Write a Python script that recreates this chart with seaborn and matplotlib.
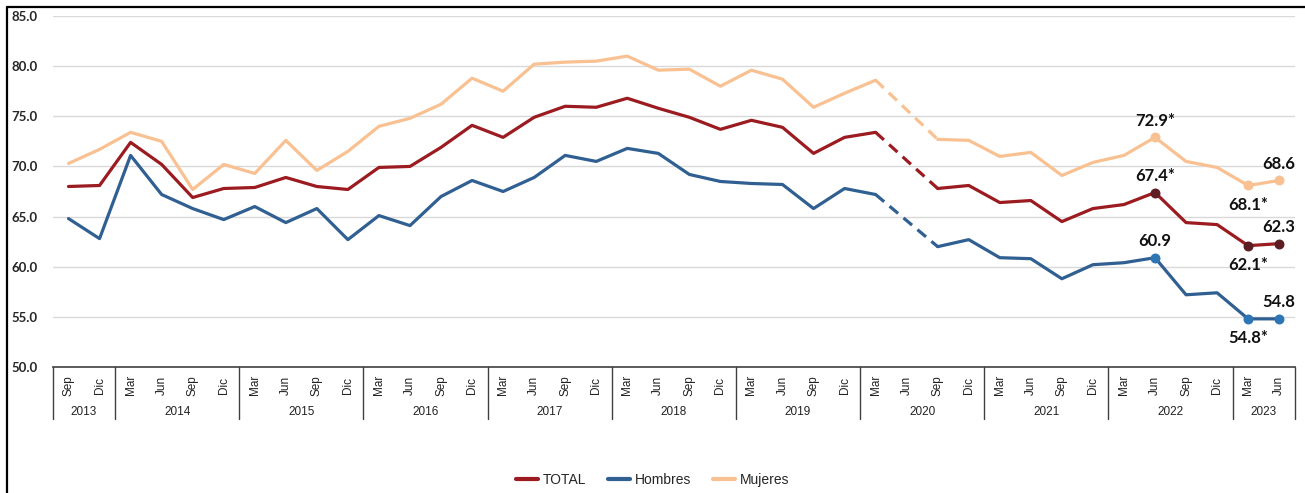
import numpy as np
import pandas as pd
import seaborn as sns
import matplotlib.pyplot as plt
from matplotlib.lines import Line2D
from matplotlib.transforms import blended_transform_factory

# quarters shown on the axis
months = ['Sep', 'Dic'] + ['Mar', 'Jun', 'Sep', 'Dic'] * 9 + ['Mar', 'Jun']
years = ['2013'] * 2 + [str(y) for y in range(2014, 2023) for _ in range(4)] + ['2023'] * 2

total = [68.0, 68.1,
         72.4, 70.2, 66.9, 67.8,
         67.9, 68.9, 68.0, 67.7,
         69.9, 70.0, 71.9, 74.1,
         72.9, 74.9, 76.0, 75.9,
         76.8, 75.8, 74.9, 73.7,
         74.6, 73.9, 71.3, 72.9,
         73.4, None, 67.8, 68.1,
         66.4, 66.6, 64.5, 65.8,
         66.2, 67.4, 64.4, 64.2,
         62.1, 62.3]
hombres = [64.8, 62.8,
           71.1, 67.2, 65.8, 64.7,
           66.0, 64.4, 65.8, 62.7,
           65.1, 64.1, 67.0, 68.6,
           67.5, 68.9, 71.1, 70.5,
           71.8, 71.3, 69.2, 68.5,
           68.3, 68.2, 65.8, 67.8,
           67.2, None, 62.0, 62.7,
           60.9, 60.8, 58.8, 60.2,
           60.4, 60.9, 57.2, 57.4,
           54.8, 54.8]
mujeres = [70.3, 71.7,
           73.4, 72.5, 67.7, 70.2,
           69.3, 72.6, 69.6, 71.5,
           74.0, 74.8, 76.2, 78.8,
           77.5, 80.2, 80.4, 80.5,
           81.0, 79.6, 79.7, 78.0,
           79.6, 78.7, 75.9, 77.3,
           78.6, None, 72.7, 72.6,
           71.0, 71.4, 69.1, 70.4,
           71.1, 72.9, 70.5, 69.9,
           68.1, 68.6]

# labelled points: (index, text, above?)
labels_total = [(35, '67.4*', True), (38, '62.1*', False), (39, '62.3', True)]
labels_hombres = [(35, '60.9', True), (38, '54.8*', False), (39, '54.8', True)]
labels_mujeres = [(35, '72.9*', True), (38, '68.1*', False), (39, '68.6', True)]

df = pd.DataFrame({'pos': np.arange(len(months)), 'mes': months, 'anio': years,
                   'TOTAL': total, 'Hombres': hombres, 'Mujeres': mujeres})

sns.set_style('white')
plt.rcParams['font.family'] = ['Liberation Sans', 'DejaVu Sans']

colors = {'TOTAL': '#9B1B20', 'Hombres': '#305F92', 'Mujeres': '#F9C191'}
mark_colors = {'TOTAL': '#5C1E22', 'Hombres': '#2E75B6', 'Mujeres': '#F9C191'}
annots = {'TOTAL': labels_total, 'Hombres': labels_hombres, 'Mujeres': labels_mujeres}

fig = plt.figure(figsize=(13.05, 4.93), dpi=100)
ax = fig.add_axes([0.0406, 0.2556, 0.9515, 0.7119])

gap = df.index[df['TOTAL'].isna()][0]
for name in ['Mujeres', 'TOTAL', 'Hombres']:
    before = df.iloc[:gap]
    after = df.iloc[gap + 1:]
    bridge = df.iloc[[gap - 1, gap + 1]]
    sns.lineplot(data=before, x='pos', y=name, color=colors[name], lw=2.3, ax=ax)
    sns.lineplot(data=after, x='pos', y=name, color=colors[name], lw=2.3, ax=ax)
    sns.lineplot(data=bridge, x='pos', y=name, color=colors[name], lw=2.3,
                 ax=ax, dashes=False).lines[-1].set_linestyle((0, (3.5, 2.2)))
    idx = [a[0] for a in annots[name]]
    ax.scatter(df['pos'].iloc[idx], df[name].iloc[idx], s=38,
               color=mark_colors[name], zorder=5)
    for i, txt, above in annots[name]:
        ax.annotate(txt, (df['pos'].iloc[i], df[name].iloc[i]),
                    xytext=(0, 12 if above else -14), textcoords='offset points',
                    ha='center', va='center', fontsize=12, fontweight='bold',
                    family=['Lato', 'DejaVu Sans'], color='#111111')

ax.set_xlim(-0.5, len(months) - 0.5)
ax.set_ylim(50, 85)
ax.set_yticks(np.arange(50, 86, 5))
ax.set_yticklabels([f'{v:.1f}' for v in np.arange(50, 86, 5)],
                   fontsize=9.5, fontweight='bold', family=['Lato', 'DejaVu Sans'])
ax.tick_params(axis='y', length=0, pad=11)
ax.set_xticks([])
ax.set_xlabel('')
ax.set_ylabel('')
ax.grid(axis='y', color='#D9D9D9', lw=1)
ax.set_axisbelow(True)
for s in ['top', 'right', 'left']:
    ax.spines[s].set_visible(False)
ax.spines['bottom'].set_color('#404040')
ax.spines['bottom'].set_linewidth(1.2)

# two level category axis
tr = blended_transform_factory(ax.transData, ax.transAxes)
narrow = ['Liberation Sans Narrow', 'Liberation Sans']
for p, m in zip(df['pos'], df['mes']):
    ax.text(p, -0.052, m, transform=tr, rotation=90, ha='center', va='center',
            fontsize=8.5, family=narrow, color='#222222', clip_on=False)
bounds = [-0.5]
for i in range(1, len(years)):
    if years[i] != years[i - 1]:
        bounds.append(i - 0.5)
bounds.append(len(years) - 0.5)
for b0, b1 in zip(bounds[:-1], bounds[1:]):
    ax.text((b0 + b1) / 2, -0.128, years[int(b0 + 0.5)], transform=tr,
            ha='center', va='center', fontsize=8.5, family=narrow,
            color='#222222', clip_on=False)
for b in bounds:
    ax.add_line(Line2D([b, b], [0, -0.147], transform=tr, color='#404040',
                       lw=1, clip_on=False))

handles = [Line2D([], [], color=colors[n], lw=3) for n in ['TOTAL', 'Hombres', 'Mujeres']]
fig.legend(handles, ['TOTAL', 'Hombres', 'Mujeres'], loc='center',
           bbox_to_anchor=(0.5, 0.026), ncol=3, frameon=False, fontsize=10,
           handlelength=1.6, handletextpad=0.3, columnspacing=1.6)

# outer frame (left and top)
fig.add_artist(Line2D([0.0054, 0.0054], [0, 0.986], color='black', lw=1.6))
fig.add_artist(Line2D([0.0054, 1.0], [0.986, 0.986], color='black', lw=1.6))

fig.savefig('out.png', dpi=100)
